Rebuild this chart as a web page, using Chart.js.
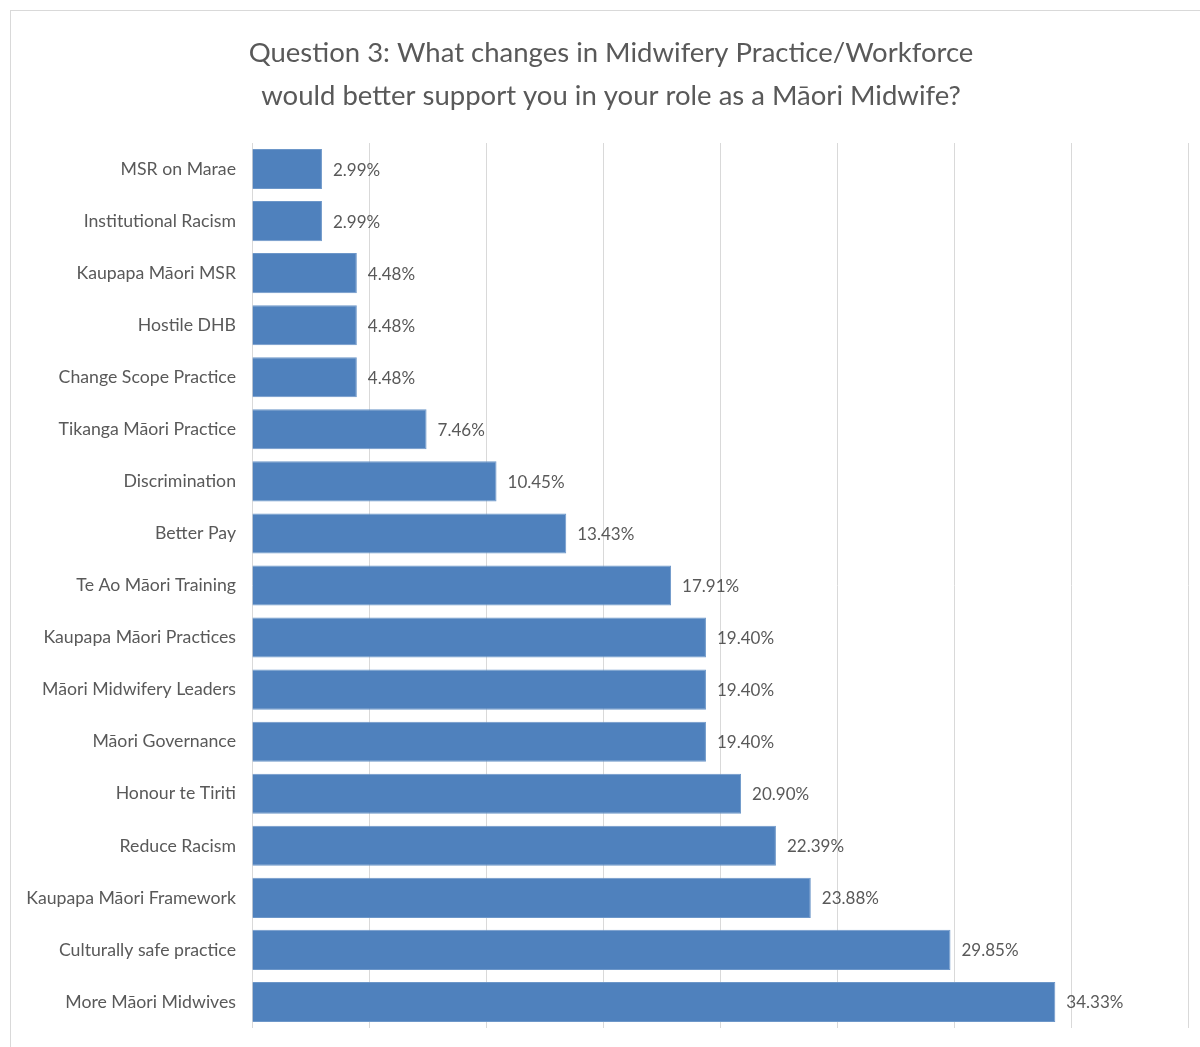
<!DOCTYPE html>
<html>
<head>
<meta charset="utf-8">
<script src="https://cdn.jsdelivr.net/npm/chart.js@4"></script>
<style>
  html, body { margin: 0; padding: 0; background: #fff; overflow: hidden; }
  #frame { position: absolute; left: 10px; top: 10px; width: 1300px; height: 1200px; border: 1px solid #d9d9d9; }
  #wrap { position: absolute; left: 0; top: 0; width: 1222px; height: 1047px; }
</style>
</head>
<body>
<div id="frame"></div>
<div id="wrap"><canvas id="chart" width="1222" height="1047"></canvas></div>
<script>
// Survey responses, share of respondents per suggested change
const categories = [
  'MSR on Marae',
  'Institutional Racism',
  'Kaupapa Māori MSR',
  'Hostile DHB',
  'Change Scope Practice',
  'Tikanga Māori Practice',
  'Discrimination',
  'Better Pay',
  'Te Ao Māori Training',
  'Kaupapa Māori Practices',
  'Māori Midwifery Leaders',
  'Māori Governance',
  'Honour te Tiriti',
  'Reduce Racism',
  'Kaupapa Māori Framework',
  'Culturally safe practice',
  'More Māori Midwives'
];
const percentages = [2.99, 2.99, 4.48, 4.48, 4.48, 7.46, 10.45, 13.43, 17.91, 19.40, 19.40, 19.40, 20.90, 22.39, 23.88, 29.85, 34.33];
const titleLines = [
  'Question 3: What changes in Midwifery Practice/Workforce',
  'would better support you in your role as a Māori Midwife?'
];
const axisMax = 40;
const gridStep = 5;

const FONT = 'Lato, "Open Sans", sans-serif';
const TEXT = '#595959';

// Two-line heading, centred on the framed chart panel
const panelTitle = {
  id: 'panelTitle',
  afterDraw(chart) {
    const ctx = chart.ctx;
    ctx.save();
    ctx.font = '27.5px ' + FONT;
    ctx.fillStyle = TEXT;
    ctx.textAlign = 'center';
    ctx.textBaseline = 'middle';
    const cx = chart.width / 2;
    titleLines.forEach((line, i) => ctx.fillText(line, cx, 53 + i * 43));
    ctx.restore();
  }
};

// Writes the percentage just past the end of each bar
const barValueLabels = {
  id: 'barValueLabels',
  afterDatasetsDraw(chart) {
    const ctx = chart.ctx;
    const meta = chart.getDatasetMeta(0);
    ctx.save();
    ctx.font = '17px ' + FONT;
    ctx.fillStyle = TEXT;
    ctx.textAlign = 'left';
    ctx.textBaseline = 'middle';
    meta.data.forEach((bar, i) => {
      const v = chart.data.datasets[0].data[i];
      ctx.fillText(v.toFixed(2) + '%', bar.x + 11, bar.y + 1);
    });
    ctx.restore();
  }
};

new Chart(document.getElementById('chart'), {
  type: 'bar',
  data: {
    labels: categories,
    datasets: [{
      data: percentages,
      backgroundColor: '#4f81bd',
      borderColor: '#6d97c9',
      borderWidth: 1,
      barPercentage: 0.77,
      categoryPercentage: 1.0
    }]
  },
  options: {
    indexAxis: 'y',
    responsive: false,
    animation: false,
    layout: { padding: { left: 0, right: 34, top: 143, bottom: 19 } },
    plugins: {
      legend: { display: false },
      tooltip: { enabled: false },
      title: { display: false }
    },
    scales: {
      x: {
        min: 0,
        max: axisMax,
        ticks: { display: false, stepSize: gridStep },
        grid: { color: '#d9d9d9', lineWidth: 1, drawTicks: false },
        border: { display: false },
        afterFit(scale) { scale.height = 0; }
      },
      y: {
        ticks: { color: TEXT, font: { family: FONT, size: 17.7 }, padding: 16 },
        grid: { display: false, drawTicks: false },
        border: { display: false },
        afterFit(scale) {
          scale.width = 252;
          scale.paddingTop = 0;
          scale.paddingBottom = 0;
        }
      }
    }
  },
  plugins: [barValueLabels, panelTitle]
});
</script>
</body>
</html>
